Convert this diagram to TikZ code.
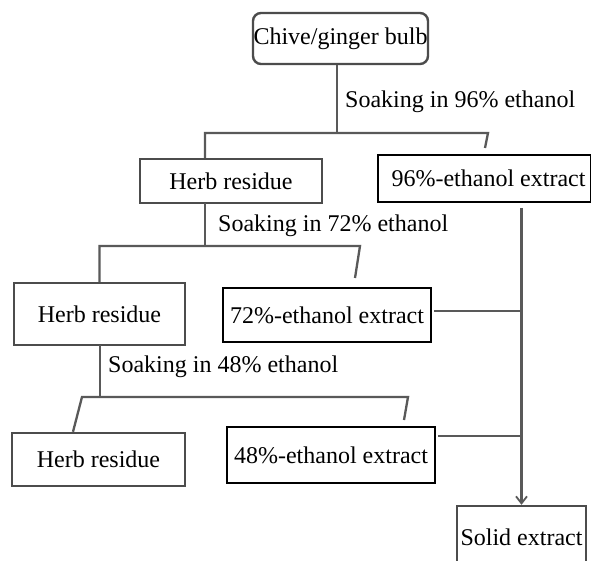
\documentclass[tikz,border=0pt]{standalone}
\usepackage{fontspec}
\setmainfont{Liberation Serif}
\usetikzlibrary{arrows.meta}
\begin{document}
\begin{tikzpicture}[x=1pt,y=-1pt,
  font=\fontsize{24}{27}\selectfont,
  herbbox/.style={draw=black!70,line width=2.4pt,inner sep=0pt},
  extbox/.style={draw=black,line width=1.6pt,inner sep=0pt},
  conn/.style={draw=black!65,line width=2.3pt},
  lbl/.style={anchor=west,inner sep=0pt}]
\useasboundingbox[fill=white] (0,0) rectangle (591,561);
% boxes
\node[herbbox,rounded corners=8pt,minimum width=175pt,minimum height=51pt] (bulb) at (340.5,38.5) {Chive/ginger bulb};
\node[herbbox,minimum width=182pt,minimum height=44pt] (hr1) at (231,181) {Herb residue};
\node[extbox,minimum width=213pt,minimum height=47pt] (e96) at (484.5,178.5) {\hspace*{4pt}96\%-ethanol extract\hspace*{-4pt}};
\node[herbbox,minimum width=171pt,minimum height=62pt] (hr2) at (99.5,314) {Herb residue};
\node[extbox,minimum width=208pt,minimum height=54pt] (e72) at (327,315) {72\%-ethanol extract};
\node[herbbox,minimum width=173pt,minimum height=53pt] (hr3) at (98.5,459.5) {Herb residue};
\node[extbox,minimum width=208pt,minimum height=56pt] (e48) at (331,455) {48\%-ethanol extract};
\node[herbbox,minimum width=129pt,minimum height=62pt] (solid) at (521.5,537) {Solid extract};
% labels
\node[lbl] (l96) at (345,102) {Soaking in 96\% ethanol};
\node[lbl] (l72) at (218,226) {Soaking in 72\% ethanol};
\node[lbl] (l48) at (108,367) {Soaking in 48\% ethanol};
% split points
\coordinate (s1) at (337,133);
\coordinate (s1l) at (205,133);
\coordinate (s1r) at (488,133);
\coordinate (s1e) at (485,148);
\coordinate (s2t) at (205,203);
\coordinate (s2) at (205,246);
\coordinate (s2l) at (99.5,246);
\coordinate (s2r) at (360,246);
\coordinate (s2e) at (355,278);
\coordinate (s3t) at (100,345);
\coordinate (s3) at (100,397);
\coordinate (s3l) at (82,397);
\coordinate (s3r) at (408,397);
\coordinate (s3e) at (404,420);
\coordinate (c96) at (521.5,208);
\coordinate (j72) at (521.5,311);
\coordinate (j48) at (521.5,436);
\coordinate (o72) at (434,311);
\coordinate (o48) at (438,436);
% connectors
\draw[conn] (bulb.south -| s1) -- (s1);
\draw[conn] (hr1.north -| s1l) -- (s1l) -- (s1r) -- (s1e);
\draw[conn] (s2t) -- (s2);
\draw[conn] (hr2.north) -- (s2l) -- (s2r) -- (s2e);
\draw[conn] (s3t) -- (s3);
\draw[conn] (hr3.north -| 73,0) -- (s3l) -- (s3r) -- (s3e);
\draw[conn,-{Straight Barb[length=7pt,width=11pt,line width=1.8pt]}] (c96) -- (solid.north);
\draw[conn] (o72) -- (j72);
\draw[conn] (o48) -- (j48);
\end{tikzpicture}
\end{document}
